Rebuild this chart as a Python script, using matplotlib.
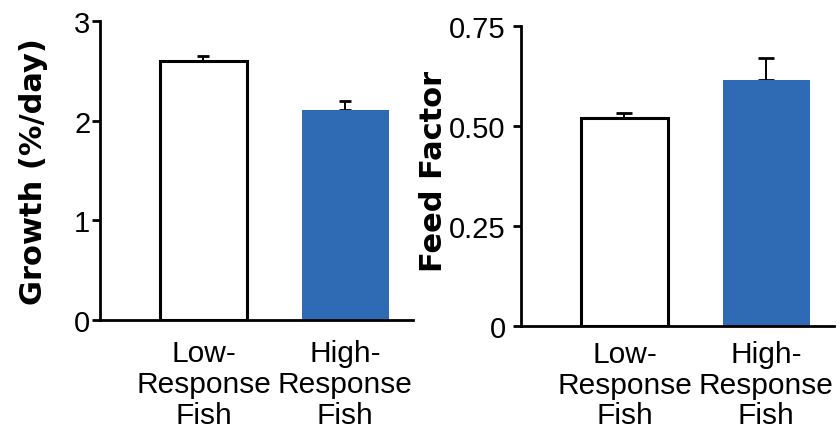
import matplotlib
matplotlib.use("Agg")
import matplotlib.pyplot as plt

categories = ["Low-\nResponse\nFish", "High-\nResponse\nFish"]
growth = [2.60, 2.11]
growth_err = [0.05, 0.09]
feed = [0.52, 0.615]
feed_err = [0.013, 0.055]

growth_ticks = [0, 1, 2, 3]
growth_ticklabels = ["0", "1", "2", "3"]
feed_ticks = [0, 0.25, 0.5, 0.75]
feed_ticklabels = ["0", "0.25", "0.50", "0.75"]

BLUE = "#2f6bb4"
TICK_FONT = "Liberation Sans"
LABEL_FONT = "DejaVu Sans"

plt.rcParams["font.family"] = [TICK_FONT, "DejaVu Sans"]

fig = plt.figure(figsize=(8.4, 4.27), dpi=100)
ax1 = fig.add_axes([100 / 840, 0.2482, 313 / 840, 0.7002])
ax2 = fig.add_axes([521 / 840, 0.2342, 313 / 840, 0.7026])


def draw_panel(ax, values, errs, ylim, ticks, ticklabels, ylabel,
               capsize, xpad, ypad, label_x, label_y):
    x = range(len(values))
    ax.bar(x, values, width=0.615, color=["white", BLUE],
           edgecolor=["black", BLUE], linewidth=[2.2, 0], zorder=2)
    ax.errorbar(x, values, yerr=[[0] * len(errs), errs], fmt="none",
                ecolor="black", elinewidth=1.4, capsize=capsize,
                capthick=2, zorder=1)
    ax.set_xlim(-0.731, 1.48)
    ax.set_ylim(*ylim)
    ax.set_yticks(ticks)
    ax.set_yticklabels(ticklabels)
    ax.set_xticks(list(x))
    ax.set_xticklabels(categories, linespacing=1.12)
    for sp in ["top", "right"]:
        ax.spines[sp].set_visible(False)
    for sp in ["left", "bottom"]:
        ax.spines[sp].set_linewidth(2)
    ax.tick_params(axis="y", length=6, width=2, labelsize=21, pad=ypad)
    ax.tick_params(axis="x", length=0, labelsize=21.5, pad=xpad)
    ax.set_ylabel(ylabel, fontsize=22, fontweight="bold",
                  family=[LABEL_FONT])
    ax.yaxis.set_label_coords(label_x, label_y)
    ax.set_facecolor("none")


draw_panel(ax1, growth, growth_err, (0, 3), growth_ticks, growth_ticklabels,
           "Growth (%/day)", 4, 14, 1, -0.165, 0.5)
draw_panel(ax2, feed, feed_err, (0, 0.75), feed_ticks, feed_ticklabels,
           "Feed Factor", 6, 10, 5, -0.232, 0.52)

fig.savefig("out.png", dpi=100)
